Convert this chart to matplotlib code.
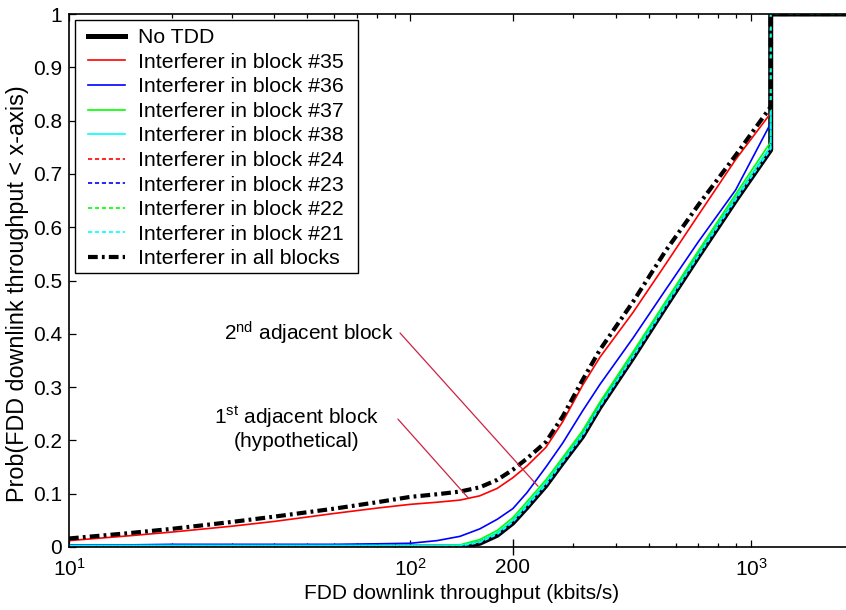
import matplotlib
matplotlib.use("Agg")
import matplotlib.pyplot as plt
from matplotlib.patches import Rectangle
from matplotlib.ticker import LogLocator, NullFormatter, FixedLocator, FixedFormatter

plt.rcParams['font.family'] = ['Liberation Sans', 'DejaVu Sans']
plt.rcParams['mathtext.fontset'] = 'custom'
plt.rcParams['mathtext.rm'] = 'Liberation Sans'
plt.rcParams['mathtext.it'] = 'Liberation Sans'
plt.rcParams['mathtext.default'] = 'regular'
plt.rcParams['lines.scale_dashes'] = False

# ---- data (throughput in kbits/s, CDF values) ----
throughput = [10, 15, 20, 30, 40, 60, 80, 100, 120, 140, 160, 180, 200, 220,
              250, 280, 320, 360, 450, 560, 700, 900, 1140, 1140, 2000]

no_tdd = [0, 0, 0, 0, 0, 0, 0, 0, 0, 0, 0.007, 0.022, 0.045, 0.074,
          0.115, 0.158, 0.207, 0.262, 0.355, 0.45, 0.545, 0.65, 0.745, 1, 1]
blk35 = [0.012, 0.021, 0.028, 0.039, 0.048, 0.063, 0.073, 0.08, 0.084, 0.088, 0.096, 0.11, 0.13, 0.152,
         0.187, 0.235, 0.303, 0.356, 0.44, 0.53, 0.623, 0.727, 0.814, 1, 1]
blk36 = [0.004, 0.004, 0.005, 0.005, 0.005, 0.005, 0.006, 0.007, 0.012, 0.02, 0.034, 0.052, 0.072, 0.102,
         0.15, 0.195, 0.255, 0.305, 0.392, 0.482, 0.573, 0.67, 0.795, 1, 1]
blk37 = [0.002, 0.002, 0.002, 0.002, 0.002, 0.002, 0.002, 0.002, 0.002, 0.004, 0.014, 0.031, 0.055, 0.085,
         0.126, 0.168, 0.218, 0.272, 0.366, 0.46, 0.556, 0.662, 0.76, 1, 1]
blk38 = [0.003, 0.003, 0.003, 0.003, 0.003, 0.003, 0.003, 0.003, 0.003, 0.003, 0.01, 0.027, 0.05, 0.08,
         0.121, 0.163, 0.212, 0.266, 0.36, 0.455, 0.55, 0.656, 0.752, 1, 1]
blk24 = [0.001, 0.001, 0.001, 0.001, 0.001, 0.001, 0.001, 0.001, 0.001, 0.001, 0.008, 0.024, 0.047, 0.076,
         0.117, 0.16, 0.209, 0.264, 0.357, 0.452, 0.547, 0.652, 0.747, 1, 1]
blk23 = [0.001, 0.001, 0.001, 0.001, 0.001, 0.001, 0.001, 0.001, 0.001, 0.001, 0.008, 0.023, 0.046, 0.075,
         0.116, 0.159, 0.208, 0.263, 0.356, 0.451, 0.546, 0.651, 0.746, 1, 1]
blk22 = [0.002, 0.002, 0.002, 0.002, 0.002, 0.002, 0.002, 0.002, 0.002, 0.002, 0.009, 0.025, 0.048, 0.077,
         0.118, 0.161, 0.21, 0.265, 0.358, 0.453, 0.548, 0.653, 0.748, 1, 1]
blk21 = [0.002, 0.002, 0.002, 0.002, 0.002, 0.002, 0.002, 0.002, 0.002, 0.002, 0.009, 0.024, 0.047, 0.076,
         0.117, 0.16, 0.209, 0.264, 0.357, 0.452, 0.547, 0.652, 0.747, 1, 1]
all_blocks = [0.016, 0.026, 0.034, 0.047, 0.057, 0.072, 0.084, 0.094, 0.099, 0.104, 0.112, 0.126, 0.145, 0.166,
              0.197, 0.245, 0.313, 0.37, 0.46, 0.555, 0.642, 0.735, 0.826, 1, 1]

labels = ['No TDD', 'Interferer in block #35', 'Interferer in block #36',
          'Interferer in block #37', 'Interferer in block #38',
          'Interferer in block #24', 'Interferer in block #23',
          'Interferer in block #22', 'Interferer in block #21',
          'Interferer in all blocks']

xtick_vals = [10, 100, 200, 1000]
xtick_labels = ['$10^1$', '$10^2$', '200', '$10^3$']
ytick_vals = [0, 0.1, 0.2, 0.3, 0.4, 0.5, 0.6, 0.7, 0.8, 0.9, 1]
ytick_labels = ['0', '0.1', '0.2', '0.3', '0.4', '0.5', '0.6', '0.7', '0.8', '0.9', '1']

# ---- figure ----
fig = plt.figure(figsize=(8.46, 6.10), dpi=100)
ax = fig.add_axes([69 / 846, 63 / 610, 785 / 846, 533 / 610])

series = [no_tdd, blk35, blk36, blk37, blk38, blk24, blk23, blk22, blk21, all_blocks]
styles = [
    dict(color='black', lw=3.6, ls='-'),
    dict(color='#FF0000', lw=1.2, ls='-'),
    dict(color='#0000FF', lw=1.2, ls='-'),
    dict(color='#00FF00', lw=1.2, ls='-'),
    dict(color='#00FFFF', lw=1.2, ls='-'),
    dict(color='#FF0000', lw=1.2, ls=(0, (3, 2))),
    dict(color='#0000FF', lw=1.2, ls=(0, (3, 2))),
    dict(color='#00FF00', lw=1.2, ls=(0, (3, 2))),
    dict(color='#00FFFF', lw=1.2, ls=(0, (3, 2))),
    dict(color='black', lw=3.0, ls=(0, (7, 3, 2, 3))),
]
for s, st, lab in zip(series, styles, labels):
    ax.plot(throughput, s, label=lab, **st)

ax.set_xscale('log')
ax.set_xlim(10, 2000)
ax.set_ylim(0, 1)

ax.xaxis.set_major_locator(FixedLocator(xtick_vals))
ax.xaxis.set_major_formatter(FixedFormatter(xtick_labels))
ax.xaxis.set_minor_locator(LogLocator(base=10, subs=[2, 3, 4, 5, 6, 7, 8, 9], numticks=20))
ax.xaxis.set_minor_formatter(NullFormatter())
ax.set_yticks(ytick_vals)
ax.set_yticklabels(ytick_labels)

ax.tick_params(axis='both', which='major', direction='in', length=5, width=0.9,
               top=True, right=True, labelsize=15)
ax.tick_params(axis='x', which='major', pad=8)
ax.tick_params(axis='y', which='major', pad=5)
ax.tick_params(axis='x', which='minor', direction='in', length=3, width=0.9, top=True)
ax.tick_params(axis='y', which='minor', left=False, right=False)

# red tick at 200
t200 = ax.xaxis.get_major_ticks()[2]
t200.tick1line.set_color('#CC0033')
t200.tick1line.set_marker('|')
t200.tick1line.set_markersize(12)
t200.tick1line.set_markeredgewidth(1.0)

for sp in ax.spines.values():
    sp.set_linewidth(1.2)

ax.set_xlabel('FDD downlink throughput (kbits/s)', fontsize=15, labelpad=3)
ax.set_ylabel('Prob(FDD downlink throughput < x-axis)', fontsize=16.8)
ax.yaxis.set_label_coords(-0.051, 0.475)

# legend: manual frame + frameless legend
frame = Rectangle((0.0076, 0.514), 0.3605, 0.475, transform=ax.transAxes,
                  facecolor='white', edgecolor='black', lw=1.0, zorder=4.5)
ax.add_patch(frame)
leg = ax.legend(loc='upper left', bbox_to_anchor=(0.0242, 0.973), borderaxespad=0,
                fontsize=15.3, frameon=False, handlelength=1.75, handletextpad=0.6,
                labelspacing=0.26, borderpad=0)
leg.set_zorder(5)

# annotations
acol = '#CC2244'
ax.text(0.306, 0.4015, '2$^{nd}$ adjacent block', transform=ax.transAxes,
        ha='center', va='center', fontsize=15)
ax.annotate('', xy=(237, 0.114), xycoords='data', xytext=(0.4217, 0.4015),
            textcoords='axes fraction',
            arrowprops=dict(arrowstyle='-', color=acol, lw=0.9, shrinkA=0, shrinkB=0))
ax.text(0.290, 0.244, '1$^{st}$ adjacent block', transform=ax.transAxes,
        ha='center', va='center', fontsize=15)
ax.text(0.290, 0.197, '(hypothetical)', transform=ax.transAxes,
        ha='center', va='center', fontsize=15)
ax.annotate('', xy=(148, 0.092), xycoords='data', xytext=(0.419, 0.240),
            textcoords='axes fraction',
            arrowprops=dict(arrowstyle='-', color=acol, lw=0.9, shrinkA=0, shrinkB=0))

fig.savefig('out.png', dpi=100)
